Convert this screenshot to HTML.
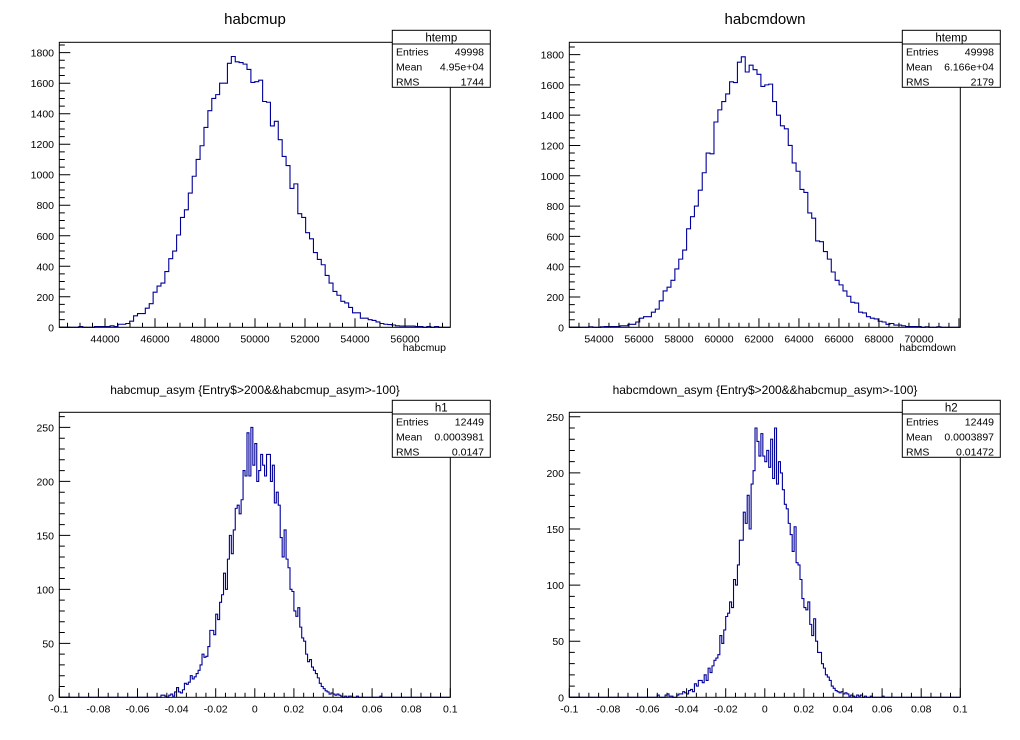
<!DOCTYPE html>
<html><head><meta charset="utf-8"><style>
body{margin:0;background:#fff;}
svg{display:block;font-family:"Liberation Sans",Arial,sans-serif;}
</style></head><body>
<svg id="c" width="1020" height="740" viewBox="0 0 1020 740" xmlns="http://www.w3.org/2000/svg"></svg>
<script>
const upCounts=[0,0,0,0,0,5,0,0,0,5,5,5,5,10,5,20,20,25,40,75,90,90,125,155,230,270,290,365,450,500,605,720,770,880,990,1100,1190,1310,1420,1500,1525,1600,1600,1730,1775,1740,1735,1725,1690,1605,1610,1620,1480,1475,1320,1350,1230,1120,1060,910,940,745,720,620,580,490,445,410,340,290,235,210,170,160,130,95,95,60,60,50,45,35,25,20,18,15,10,8,8,8,8,5,5,0,5,0,5,0,0,0];
const downCounts=[0,0,0,0,0,3,0,0,3,5,5,5,5,10,10,20,20,35,60,70,70,100,120,175,240,265,310,385,450,510,650,730,800,905,1020,1150,1145,1355,1435,1490,1540,1620,1615,1750,1785,1685,1730,1700,1670,1590,1600,1605,1490,1400,1330,1310,1200,1085,1030,910,890,755,720,570,565,500,450,365,310,280,240,205,165,160,100,95,70,60,55,40,35,20,25,15,15,10,5,5,5,5,0,3,0,0,3,0,0,0,0,0];
const upAsym=[].concat(new Array(50).fill(0),[0,0,2,2,1,0,2,3,1,5, 9,5,4,7,13,12,14,20,17,19, 22,25,30,40,37,38,47,62,62,58, 77,72,88,95,115,100,128,150,133,155, 175,178,170,183,210,205,245,205,250,215, 235,200,210,225,215,205,225,225,200,215, 180,190,178,148,130,155,128,120,100,98, 80,75,83,65,55,52,40,33,35,28, 25,22,18,13,10,8,6,5,3,4, 3,2,3,2,1,0,1,0,1,1, 0,0,1,0,0,0,0,0,0,0, 0,0,0,0,1,0,0,0,0,0],new Array(30).fill(0));
const downAsym=[].concat(new Array(40).fill(0),[0,0,0,0,0,2,0,0,0,2, 3,1,1,0,0,2,3,3,5,4, 3,6,7,5,12,10,15,15,13,20, 15,26,22,28,33,35,38,55,48,60, 72,75,85,80,105,100,118,140,140,165, 155,180,150,190,202,240,228,215,235,215, 210,220,205,230,195,240,190,210,200,185, 172,168,155,145,130,152,120,118,105,88, 80,78,85,65,55,70,50,40,40,30, 26,20,18,15,10,8,6,5,4,5, 3,4,3,1,2,1,0,2,1,2, 0,1,0,0,1,0,0,0,0,0, 1,0,0,0,0,0,0,0,0,0],new Array(30).fill(0));
const upXTicks=[44000,46000,48000,50000,52000,54000,56000];
const downXTicks=[54000,56000,58000,60000,62000,64000,66000,68000,70000];
const asymXTicks=[-0.1,-0.08,-0.06,-0.04,-0.02,0,0.02,0.04,0.06,0.08,0.1];
const bigYTicks=[0,200,400,600,800,1000,1200,1400,1600,1800];
const smallYTicks=[0,50,100,150,200,250];

const panels=[
 {ox:0,oy:0,title:"habcmup",tsize:15,xt:"habcmup",xmin:42172,xmax:57812,xminor:500,xticks:upXTicks,ymax:1868,ymin:50,yticks:bigYTicks,counts:upCounts,stat:["htemp","49998","4.95e+04","1744"],name:"habcmup"},
 {ox:510,oy:0,title:"habcmdown",tsize:15,xt:"habcmdown",xmin:52517,xmax:72067,xminor:500,xticks:downXTicks,ymax:1881,ymin:50,yticks:bigYTicks,counts:downCounts,stat:["htemp","49998","6.166e+04","2179"],name:"habcmdown"},
 {ox:0,oy:370,title:"habcmup_asym {Entry$>200&&habcmup_asym>-100}",tsize:12,xt:"",xmin:-0.1,xmax:0.1,xminor:0.005,xticks:asymXTicks,ymax:264,ymin:10,yticks:smallYTicks,counts:upAsym,stat:["h1","12449","0.0003981","0.0147"],name:"habcmup-asym"},
 {ox:510,oy:370,title:"habcmdown_asym {Entry$>200&&habcmup_asym>-100}",tsize:12,xt:"",xmin:-0.1,xmax:0.1,xminor:0.005,xticks:asymXTicks,ymax:254,ymin:10,yticks:smallYTicks,counts:downAsym,stat:["h2","12449","0.0003897","0.01472"],name:"habcmdown-asym"}
];
const NS="http://www.w3.org/2000/svg";
const svg=document.getElementById('c');
function mk(tag,attrs,parent,text){const e=document.createElementNS(NS,tag);for(const k in attrs)e.setAttribute(k,attrs[k]);if(text!==undefined)e.textContent=text;parent.appendChild(e);return e;}
function fmt(v){return (Math.round(v*1000)/1000).toString();}
panels.forEach(p=>{
 const g=mk('g',{transform:`translate(${p.ox},${p.oy})`},svg);
 
 
 const L=59.3,R=450.3,T=42.3,B=327.3;
 const sx=v=>L+(v-p.xmin)/(p.xmax-p.xmin)*(R-L);
 const sy=v=>B-v/p.ymax*(B-T);
 const t=mk('text',{x:255,y:24,'font-size':p.tsize,'text-anchor':'middle',fill:'#000'},g,p.title);
 
 
 const n=p.counts.length,bw=(p.xmax-p.xmin)/n;
 let d=`M${sx(p.xmin)},${sy(0)}`;
 for(let i=0;i<n;i++){const x0=sx(p.xmin+i*bw),x1=sx(p.xmin+(i+1)*bw),y=sy(p.counts[i]);d+=` L${x0.toFixed(2)},${y.toFixed(2)} L${x1.toFixed(2)},${y.toFixed(2)}`;}
 d+=` L${sx(p.xmax)},${sy(0)}`;
 const h=mk('path',{d:d,fill:'none',stroke:'#000099','stroke-width':1.1},g);
 
 
 const fr=mk('rect',{x:L,y:T,width:R-L,height:B-T,fill:'none',stroke:'#000','stroke-width':1},g);
 
 
 let ax='';
 const start=Math.ceil(p.xmin/p.xminor-1e-6);
 for(let k=start;k*p.xminor<=p.xmax+1e-9;k++){const v=k*p.xminor;const major=Math.abs(Math.round(k/4)-k/4)<1e-6;const x=sx(v);ax+=`M${x.toFixed(2)},${B} L${x.toFixed(2)},${B-(major?9:4.5)} `;}
 const xa=mk('path',{d:ax,stroke:'#000','stroke-width':1,fill:'none'},g);
 
 
 p.xticks.forEach(v=>{const e=mk('text',{x:sx(v),y:B+15,'font-size':10.5,'text-anchor':'middle'},g,fmt(v));
  
  });
 let ay='';
 const maj=p.yticks[1]-p.yticks[0];
 for(let v=0;v<=p.ymax;v+=p.ymin){const major=Math.abs(v/maj-Math.round(v/maj))<1e-6;const y=sy(v);ay+=`M${L},${y.toFixed(2)} L${L+(major?11:5.5)},${y.toFixed(2)} `;}
 const ya=mk('path',{d:ay,stroke:'#000','stroke-width':1,fill:'none'},g);
 
 
 p.yticks.forEach(v=>{const e=mk('text',{x:54,y:sy(v)+4,'font-size':10.5,'text-anchor':'end'},g,String(v));
  
  });
 if(p.xt){const e=mk('text',{x:446,y:351,'font-size':10.5,'text-anchor':'end'},g,p.xt);
  
  }
 const sb=mk('g',{},g);
 
 
 mk('rect',{x:392.3,y:30.3,width:98,height:57,fill:'#fff',stroke:'#000','stroke-width':1},sb);
 mk('line',{x1:392.3,y1:44,x2:490.3,y2:44,stroke:'#000','stroke-width':1},sb);
 mk('text',{x:441.3,y:41.5,'font-size':11.5,'text-anchor':'middle'},sb,p.stat[0]);
 const labs=['Entries','Mean','RMS'];
 labs.forEach((lb,i)=>{const y=55.5+i*15;
  mk('text',{x:396,y:y,'font-size':10.5},sb,lb);
  mk('text',{x:484,y:y,'font-size':10.5,'text-anchor':'end'},sb,p.stat[i+1]);});
});
</script>
</body></html>
